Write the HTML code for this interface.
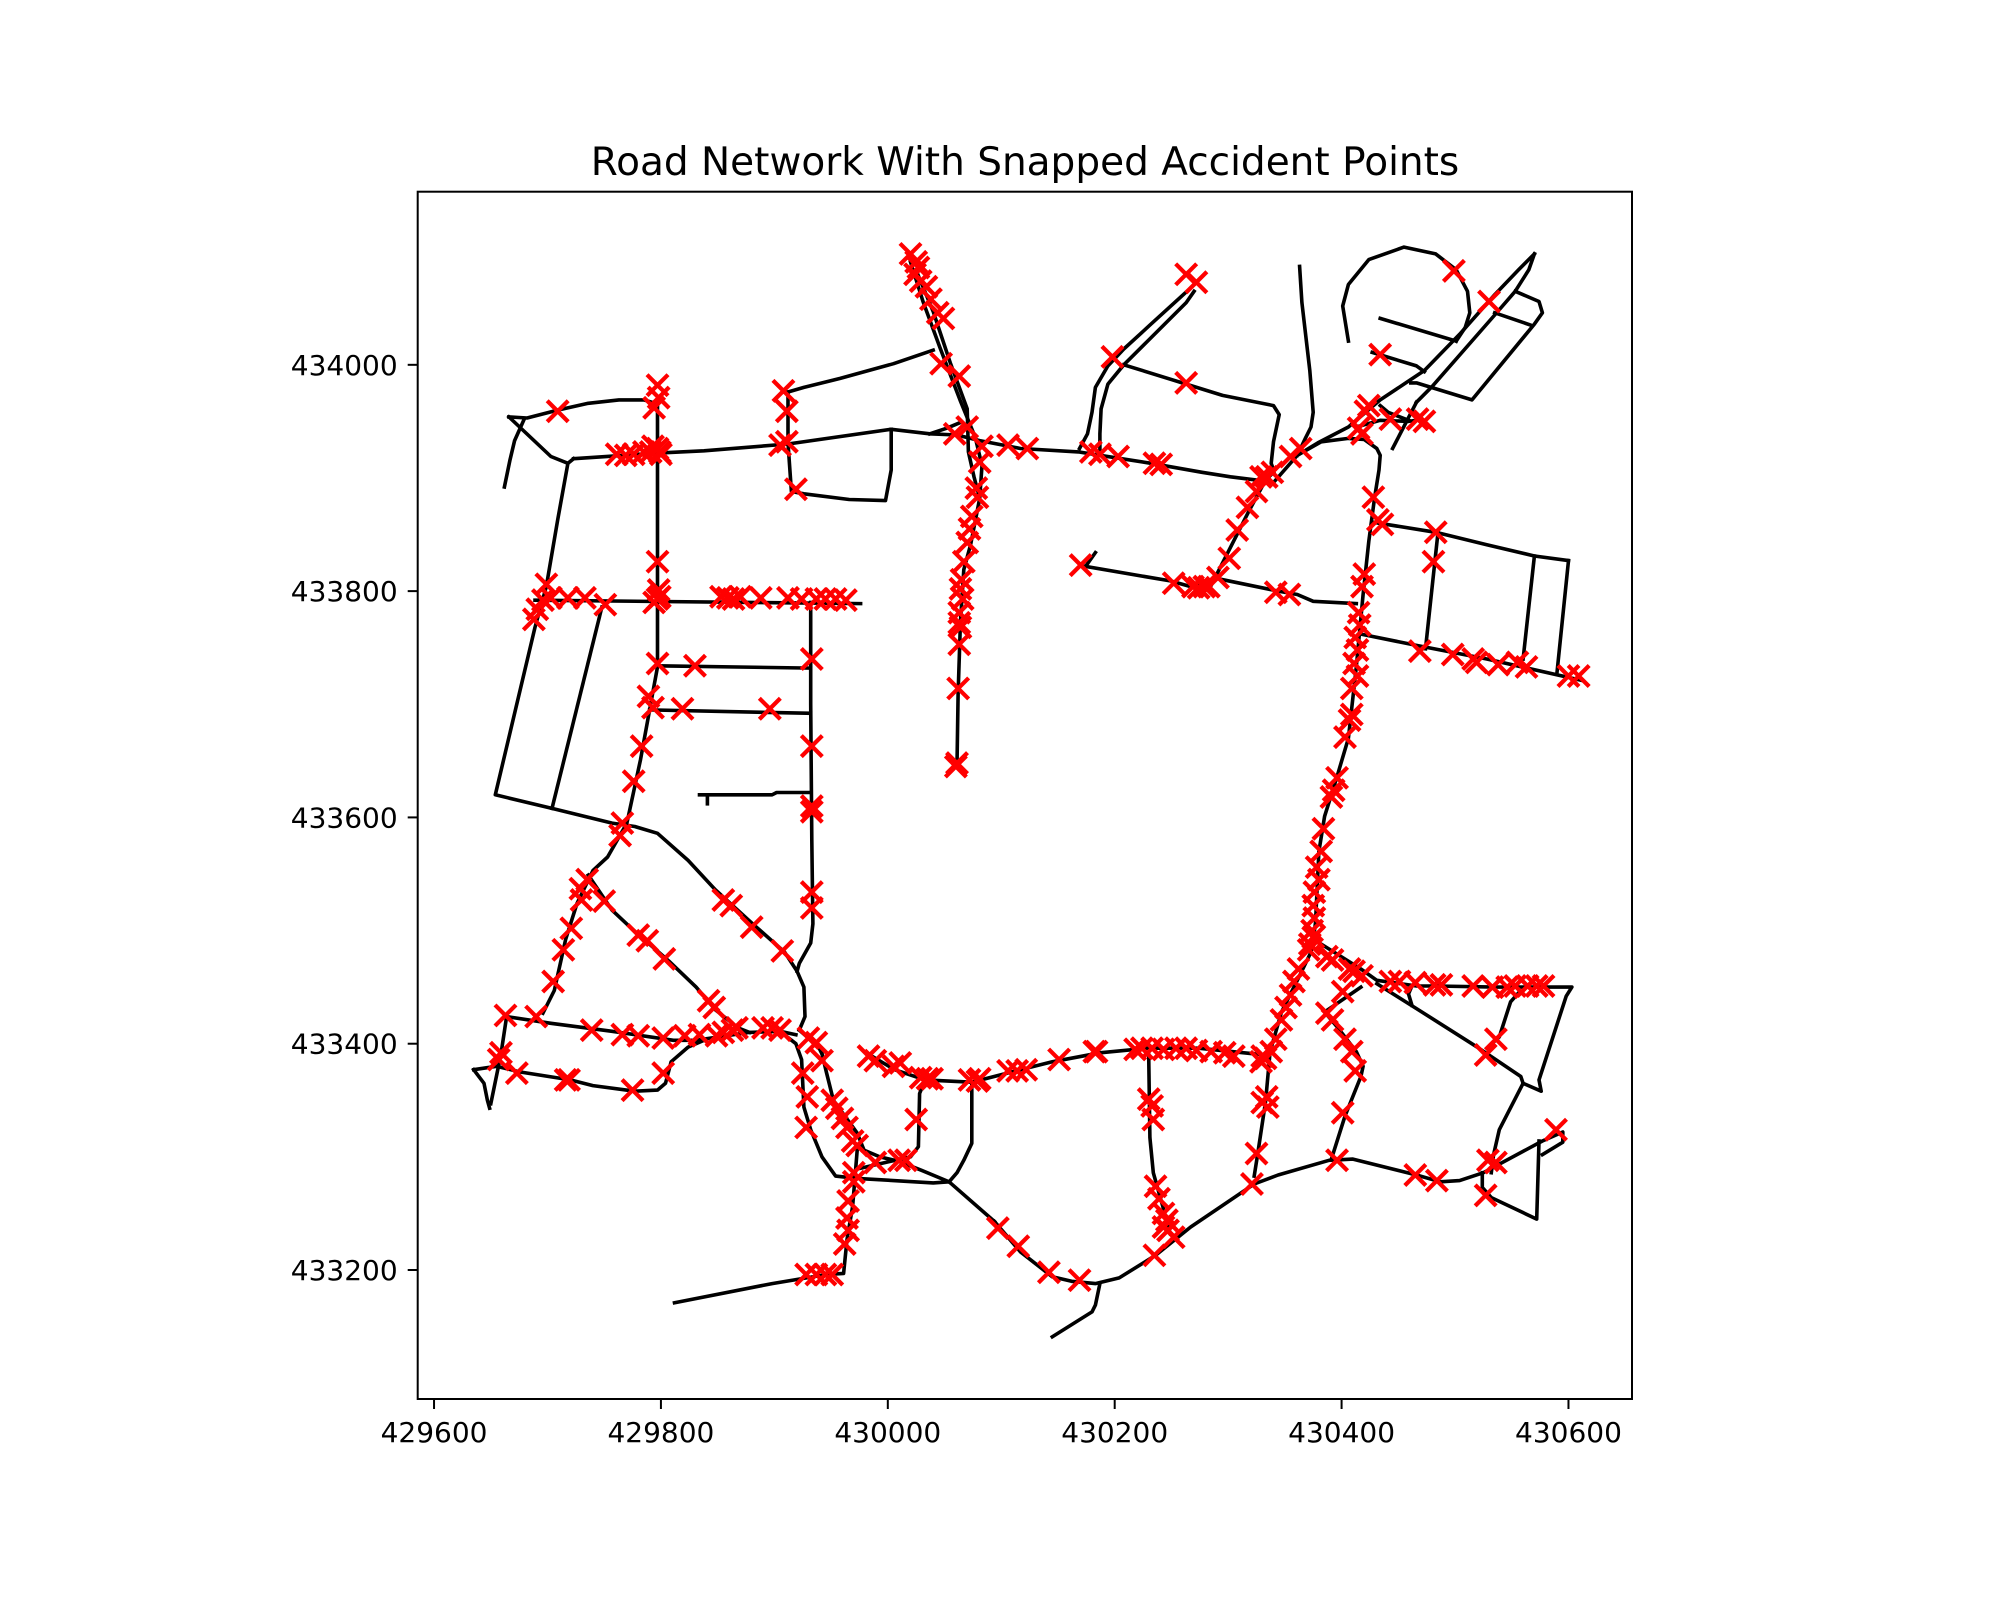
<!DOCTYPE html>
<html><head><meta charset="utf-8"><style>
html,body{margin:0;padding:0;background:#fff;}
svg{display:block;font-family:"DejaVu Sans","Liberation Sans",sans-serif;}
</style></head><body>
<svg id="chart" width="2000" height="1600" viewBox="0 0 2000 1600">
<rect x="0" y="0" width="2000" height="1600" fill="#fff"/>
<text x="1025" y="175" text-anchor="middle" font-size="39" fill="#000">Road Network With Snapped Accident Points</text>
<g id="roads"></g>
<g id="points"></g>
<g id="axes"></g>
</svg>
<script>
const xTicks=[429600,429800,430000,430200,430400,430600];
const yTicks=[433200,433400,433600,433800,434000];
const xDomain=[429585.6,430656];
const yDomain=[433086,434153];
const roads=[
[[429666,433954],[429682,433953],[429709,433960],[429736,433966],[429763,433969],[429785,433969],[429795,433966]],
[[429666,433954],[429703,433919],[429718,433913],[429723,433917]],
[[429679,433951],[429671,433933],[429667,433916],[429662,433892]],
[[429723,433917],[429797,433922],[429838,433924],[429912,433930],[430003,433943],[430037,433939],[430061,433938],[430081,433933],[430117,433926],[430168,433923],[430187,433920],[430232,433913],[430277,433905],[430302,433901],[430326,433898],[430340,433896]],
[[429797,433969],[429797,433792],[429797,433733],[429790,433695],[429782,433651],[429770,433595],[429753,433565],[429740,433553],[429726,433524],[429716,433492],[429706,433447],[429696,433427]],
[[429689,433792],[429976,433789]],
[[429718,433913],[429709,433863],[429699,433804],[429689,433768],[429654,433620],[429704,433608],[429757,433595],[429777,433592],[429797,433586],[429824,433562],[429848,433536],[429882,433505],[429909,433481],[429920,433464],[429926,433450],[429927,433424],[429922,433412]],
[[429704,433608],[429748,433786]],
[[429797,433734],[429932,433732]],
[[429790,433695],[429932,433692]],
[[429834,433620],[429898,433620],[429902,433622],[429932,433622]],
[[429841,433620],[429841,433612]],
[[429932,433790],[429932,433700],[429933,433580],[429934,433506],[429932,433489],[429922,433471],[429920,433464]],
[[429912,433976],[429912,433931],[429915,433888],[429926,433886],[429966,433881],[429998,433880],[430003,433907],[430003,433943]],
[[429912,433976],[429926,433980],[429958,433988],[430005,434001],[430040,434013]],
[[430020,434091],[430031,434056],[430046,434015],[430064,433968],[430077,433936],[430083,433911],[430081,433882],[430073,433841],[430067,433819],[430064,433772],[430062,433709],[430061,433646]],
[[430026,434081],[430040,434047],[430055,434002],[430070,433961],[430071,433923],[430076,433901],[430081,433882]],
[[430037,433939],[430052,433944],[430064,433949]],
[[430340,433896],[430361,433920],[430379,433931],[430406,433945],[430434,433969],[430473,433995],[430504,434027],[430535,434062],[430556,434084],[430570,434098]],
[[430466,433967],[430480,433981],[430535,434044],[430553,434065],[430565,434084],[430570,434098]],
[[430361,433920],[430382,433932],[430406,433935],[430420,433934],[430431,433926],[430434,433920],[430433,433907],[430429,433882],[430424,433844],[430419,433797],[430413,433733],[430406,433670],[430396,433636],[430385,433601],[430380,433570],[430377,433507],[430375,433491],[430373,433481],[430361,433456],[430347,433428],[430337,433393],[430333,433349],[430326,433302],[430323,433283]],
[[430413,433945],[430434,433951],[430459,433950],[430466,433951]],
[[430434,433964],[430441,433958],[430459,433951]],
[[430445,433926],[430466,433967]],
[[430553,434065],[430574,434056],[430577,434046],[430570,434036],[430515,433969],[430466,433984],[430461,433984]],
[[430535,434046],[430567,434035]],
[[430434,434041],[430501,434021]],
[[430427,434011],[430466,433999],[430473,433994]],
[[430406,434021],[430401,434052],[430406,434071],[430424,434093],[430455,434104],[430483,434098],[430501,434084],[430511,434065],[430513,434046],[430509,434033],[430501,434021]],
[[430363,434087],[430365,434055],[430372,433995],[430375,433958],[430373,433945],[430368,433935],[430361,433920]],
[[430267,434068],[430232,434036],[430208,434014],[430194,433999],[430183,433980],[430180,433958],[430176,433939],[430169,433926]],
[[430270,434065],[430263,434055],[430229,434021],[430208,434000],[430194,433983],[430188,433961],[430187,433939],[430187,433923]],
[[430208,434000],[430263,433983],[430295,433973],[430340,433964],[430345,433956],[430340,433932],[430338,433913],[430340,433907]],
[[430173,433822],[430249,433809],[430267,433804],[430291,433811],[430344,433800],[430361,433797],[430375,433791],[430413,433789]],
[[430173,433820],[430183,433834]],
[[430285,433805],[430319,433872],[430333,433898],[430340,433905]],
[[430427,433861],[430483,433852],[430528,433841],[430570,433831],[430600,433827]],
[[430485,433852],[430474,433749]],
[[430570,433831],[430560,433740]],
[[430600,433827],[430590,433729]],
[[430417,433762],[430466,433752],[430528,433740],[430612,433721]],
[[430094,433243],[430117,433216],[430145,433194],[430162,433190],[430183,433188],[430204,433193],[430236,433213],[430267,433238],[430295,433257],[430323,433276],[430344,433284],[430389,433297],[430410,433298],[430466,433284],[430487,433278],[430504,433279],[430525,433286],[430577,433314],[430595,433322],[430595,433313],[430577,433302]],
[[430574,433314],[430572,433245],[430553,433254],[430532,433264],[430524,433273],[430524,433286]],
[[430187,433188],[430183,433169],[430180,433163],[430145,433141]],
[[430117,433377],[430145,433384],[430187,433392],[430229,433396],[430274,433396],[430333,433390]],
[[430230,433390],[430231,433317],[430234,433286],[430243,433254],[430249,433232]],
[[430382,433488],[430417,433466],[430431,433456],[430466,433451],[430483,433451],[430535,433450],[430570,433450],[430603,433450],[430598,433442],[430574,433368],[430576,433358],[430560,433365]],
[[430431,433453],[430466,433431],[430521,433396],[430558,433371],[430560,433365],[430539,433324],[430534,433302],[430532,433286]],
[[430417,433450],[430385,433428],[430396,433415],[430413,433393],[430419,433380],[430417,433371],[430403,433336],[430391,433298]],
[[430462,433451],[430459,433444],[430462,433434]],
[[430528,433396],[430539,433406],[430549,433437],[430556,433445]],
[[429664,433424],[429703,433418],[429757,433411],[429811,433403],[429831,433403],[429851,433406],[429878,433410],[429905,433411],[429919,433408]],
[[429905,433411],[429919,433400],[429924,433386],[429926,433344],[429932,433324],[429942,433300],[429954,433283],[429973,433281],[430040,433277],[430054,433278],[430094,433243]],
[[429664,433424],[429659,433391],[429650,433347]],
[[429635,433377],[429644,433365],[429647,433350],[429649,433343]],
[[429635,433377],[429655,433380],[429676,433375],[429720,433368],[429740,433363],[429777,433358],[429797,433359],[429804,433365],[429809,433384],[429824,433397],[429838,433403]],
[[429736,433549],[429757,433518],[429774,433502],[429807,433473],[429831,433450],[429848,433430],[429868,433414],[429878,433410]],
[[429973,433306],[429969,433256],[429964,433227],[429961,433197],[429946,433196],[429898,433188],[429812,433171]],
[[429942,433391],[429946,433374],[429952,433350],[429973,433321],[429979,433306],[429993,433300],[430010,433296],[430030,433288],[430054,433278]],
[[429976,433290],[429993,433294],[430020,433300],[430027,433309],[430028,433356],[430033,433368]],
[[430074,433366],[430074,433312],[430067,433297],[430061,433286],[430054,433278]],
[[429986,433389],[430006,433377],[430033,433368],[430074,433366],[430117,433377]],
[[429922,433412],[429939,433397],[429942,433391]]
];
const accidentX=[429709,429797,429798,429794,429761,429769,429776,429785,429791,429797,429799,429793,429800,429797,429798,429797,429799,429794,429699,429691,429688,429696,429703,429718,429733,429751,429797,429830,429789,429793,429819,429896,429783,429776,429766,429764,429908,429911,429905,429911,429919,429933,429933,429933,429933,429933,429933,429853,429859,429864,429870,429888,429912,429924,429937,429945,429954,429963,429735,429729,429730,429721,429714,429705,429690,429750,429780,429788,429803,429855,429862,429880,429907,429842,429847,429659,429663,429657,429673,429719,429716,429739,429766,429780,429775,429802,429802,429821,429834,429849,429855,429863,429867,429890,429898,429905,429930,429937,429925,429929,429928,429942,429951,429955,429960,429964,429969,429973,429970,429970,429965,429964,429965,429962,429928,429937,429945,429951,429983,429989,430005,430011,430029,430035,430039,430025,430010,430016,429989,430072,430079,430081,430106,430114,430122,430151,430184,430097,430115,430142,430169,
430020,430025,430027,430024,430029,430034,430038,430044,430049,430047,430063,430059,430070,430083,430081,430078,430079,430074,430072,430070,430067,430065,430064,430066,430063,430063,430064,430063,430062,430061,430060,430106,430123,
430263,430272,430198,430263,430179,430187,430203,430235,430241,430170,430252,430269,430274,430279,430283,430291,430301,430308,430317,430325,430334,430339,430329,430364,430355,430342,430354,430499,430530,430434,430424,430421,430415,430418,430443,430467,430473,430428,430432,430436,430483,430481,
430420,430418,430415,430416,430412,430414,430411,430414,430409,430409,430407,430403,430396,430393,430391,430384,430382,430378,430380,430376,430375,430376,430374,430375,430372,430371,430362,430358,430355,430351,430347,430342,430338,430333,430329,
430469,430498,430516,430519,430538,430555,430563,430600,430609,430387,430392,430407,430411,430418,430443,430451,430465,430482,430488,430516,430533,430546,430553,430564,430572,430578,430401,430387,430392,430403,430409,430412,430401,430396,430334,430330,430335,430325,
430182,430218,430224,430233,430243,430254,430263,430272,430285,430297,430305,430330,430230,430233,430234,430236,430239,430243,430246,430247,430252,430243,430235,430321,430465,430484,430527,430529,430536,430527,430536,430589];
const accidentY=[433959,433982,433971,433962,433921,433920,433921,433923,433923,433926,433923,433928,433921,433826,433801,433793,433795,433790,433806,433784,433775,433792,433794,433794,433794,433788,433736,433734,433707,433697,433696,433696,433663,433632,433595,433584,433977,433959,433929,433932,433890,433740,433663,433610,433605,433534,433520,433795,433794,433793,433795,433794,433794,433793,433793,433793,433793,433792,433545,433537,433527,433502,433483,433455,433424,433526,433496,433491,433475,433527,433522,433503,433482,433438,433432,433392,433425,433386,433374,433368,433368,433412,433408,433407,433359,433374,433405,433407,433408,433407,433410,433412,433414,433414,433414,433412,433405,433401,433374,433353,433326,433385,433350,433343,433334,433326,433314,433310,433286,433278,433261,433246,433235,433223,433196,433196,433196,433196,433389,433385,433380,433383,433370,433369,433369,433333,433297,433297,433295,433368,433367,433369,433376,433376,433377,433386,433393,433237,433221,433198,433191,
434098,434091,434086,434080,434074,434069,434058,434046,434041,434001,433990,433939,433945,433928,433914,433891,433883,433866,433855,433843,433826,433810,433802,433793,433781,433772,433768,433753,433714,433648,433645,433929,433926,
434080,434073,434007,433984,433923,433921,433919,433913,433912,433823,433807,433804,433803,433804,433804,433812,433829,433854,433874,433888,433901,433905,433901,433926,433919,433799,433797,434083,434056,434009,433964,433959,433944,433939,433952,433952,433950,433883,433863,433859,433852,433826,
433815,433804,433781,433770,433759,433748,433736,433725,433714,433691,433686,433671,433635,433624,433618,433590,433570,433556,433545,433534,433522,433511,433500,433494,433488,433483,433466,433455,433443,433432,433421,433404,433393,433387,433384,
433747,433744,433740,433737,433735,433737,433733,433725,433725,433477,433474,433466,433464,433460,433455,433455,433454,433452,433452,433451,433450,433450,433451,433451,433451,433451,433446,433427,433421,433404,433393,433376,433339,433297,433353,433348,433344,433303,
433393,433395,433396,433396,433395,433396,433396,433394,433393,433392,433389,433389,433351,433345,433333,433274,433263,433250,433244,433235,433229,433238,433213,433276,433284,433279,433266,433297,433295,433390,433404,433324];

const AX={l:417.7,r:1632,t:191.7,b:1399};
function sx(v){return AX.l+(v-xDomain[0])/(xDomain[1]-xDomain[0])*(AX.r-AX.l);}
function sy(v){return AX.b-(v-yDomain[0])/(yDomain[1]-yDomain[0])*(AX.b-AX.t);}
const NS='http://www.w3.org/2000/svg';
const gR=document.getElementById('roads'),gP=document.getElementById('points'),gA=document.getElementById('axes');
roads.forEach(function(r,i){
  const p=document.createElementNS(NS,'polyline');
  p.setAttribute('points',r.map(function(q){return sx(q[0]).toFixed(1)+','+sy(q[1]).toFixed(1);}).join(' '));
  p.setAttribute('fill','none');p.setAttribute('stroke','#000');p.setAttribute('stroke-width','3.6');
  p.setAttribute('stroke-linejoin','round');p.setAttribute('stroke-linecap','square');
  
  
  gR.appendChild(p);
});
for(let i=0;i<accidentX.length;i++){
  const cx=sx(accidentX[i]),cy=sy(accidentY[i]),h=10.5;
  const m=document.createElementNS(NS,'path');
  m.setAttribute('d','M'+(cx-h)+','+(cy-h)+'L'+(cx+h)+','+(cy+h)+'M'+(cx-h)+','+(cy+h)+'L'+(cx+h)+','+(cy-h));
  m.setAttribute('stroke','#ff0000');m.setAttribute('stroke-width','4.2');m.setAttribute('fill','none');
  
  
  gP.appendChild(m);
}
const frame=document.createElementNS(NS,'rect');
frame.setAttribute('x',AX.l);frame.setAttribute('y',AX.t);frame.setAttribute('width',AX.r-AX.l);frame.setAttribute('height',AX.b-AX.t);
frame.setAttribute('fill','none');frame.setAttribute('stroke','#000');frame.setAttribute('stroke-width','2');


gA.appendChild(frame);
xTicks.forEach(function(v){
  const x=sx(v);
  const t=document.createElementNS(NS,'line');
  t.setAttribute('x1',x);t.setAttribute('x2',x);t.setAttribute('y1',AX.b);t.setAttribute('y2',AX.b+10);
  t.setAttribute('stroke','#000');t.setAttribute('stroke-width','2');
  
  
  gA.appendChild(t);
  const l=document.createElementNS(NS,'text');
  l.setAttribute('x',x);l.setAttribute('y',AX.b+43);l.setAttribute('text-anchor','middle');l.setAttribute('font-size','28');
  l.textContent=String(v);
  
  
  gA.appendChild(l);
});
yTicks.forEach(function(v){
  const y=sy(v);
  const t=document.createElementNS(NS,'line');
  t.setAttribute('x1',AX.l-10);t.setAttribute('x2',AX.l);t.setAttribute('y1',y);t.setAttribute('y2',y);
  t.setAttribute('stroke','#000');t.setAttribute('stroke-width','2');
  
  
  gA.appendChild(t);
  const l=document.createElementNS(NS,'text');
  l.setAttribute('x',AX.l-20);l.setAttribute('y',y+10);l.setAttribute('text-anchor','end');l.setAttribute('font-size','28');
  l.textContent=String(v);
  
  
  gA.appendChild(l);
});
</script>
</body></html>
